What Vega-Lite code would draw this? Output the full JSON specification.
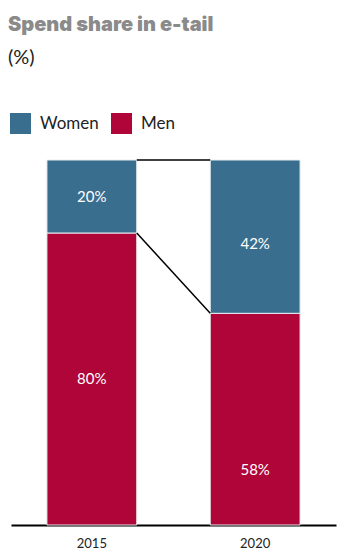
{
  "$schema": "https://vega.github.io/schema/vega-lite/v6.json",
  "width": 325,
  "height": 365,
  "autosize": {"type": "none"},
  "padding": {"left": 11, "top": 160, "right": 18, "bottom": 35},
  "background": "white",
  "config": {"view": {"stroke": null}},
  "title": {
    "text": "Spend share in e-tail",
    "subtitle": "(%)",
    "anchor": "start",
    "frame": "group",
    "dx": -3,
    "offset": 45,
    "font": "Inter",
    "fontSize": 20,
    "fontWeight": 900,
    "color": "#8a8a8a",
    "subtitleFont": "Lato",
    "subtitleFontSize": 20,
    "subtitleColor": "#222222",
    "subtitlePadding": 13
  },
  "datasets": {
    "shares": [
      {"year": "2015", "gender": "Men", "value": 80, "label": "80%"},
      {"year": "2015", "gender": "Women", "value": 20, "label": "20%"},
      {"year": "2020", "gender": "Men", "value": 58, "label": "58%"},
      {"year": "2020", "gender": "Women", "value": 42, "label": "42%"}
    ],
    "links": [
      {"from": "2015", "to": "2020", "start": 100, "end": 100},
      {"from": "2015", "to": "2020", "start": 80, "end": 58}
    ]
  },
  "encoding": {
    "x": {
      "field": "year",
      "type": "nominal",
      "scale": {"paddingInner": 0.45, "paddingOuter": 0.22},
      "axis": {
        "title": null,
        "labelAngle": 0,
        "ticks": false,
        "domainColor": "#000000",
        "domainWidth": 2,
        "labelFont": "Lato",
        "labelFontSize": 13,
        "labelColor": "#222222",
        "labelPadding": 12
      }
    }
  },
  "layer": [
    {
      "data": {"name": "shares"},
      "mark": {"type": "bar", "stroke": "#e8eef2", "strokeWidth": 1},
      "encoding": {
        "y": {"field": "value", "type": "quantitative", "stack": "zero", "scale": {"domain": [0, 100], "nice": false}, "axis": null},
        "color": {
          "field": "gender",
          "type": "nominal",
          "scale": {"domain": ["Women", "Men"], "range": ["#3a6e8f", "#b00538"]},
          "legend": {
            "title": null,
            "orient": "none",
            "legendX": -1,
            "legendY": -47,
            "direction": "horizontal",
            "symbolType": "square",
            "symbolSize": 441,
            "symbolStrokeWidth": 0,
            "labelFont": "Lato",
            "labelFontSize": 17,
            "labelColor": "#222222",
            "labelOffset": 9,
            "columnPadding": 12
          }
        },
        "order": {"field": "gender", "sort": "ascending"}
      }
    },
    {
      "data": {"name": "links"},
      "mark": {"type": "rule", "color": "#000000", "strokeWidth": 1.5},
      "encoding": {
        "x": {"field": "from", "type": "nominal", "bandPosition": 1},
        "x2": {"field": "to", "bandPosition": 0},
        "y": {"field": "start", "type": "quantitative"},
        "y2": {"field": "end"}
      }
    },
    {
      "data": {"name": "shares"},
      "mark": {"type": "text", "color": "white", "font": "Lato", "fontSize": 15},
      "encoding": {
        "y": {"field": "value", "type": "quantitative", "stack": "zero", "bandPosition": 0.5},
        "text": {"field": "label", "type": "nominal"},
        "order": {"field": "gender", "sort": "ascending"},
        "opacity": {"condition": {"test": "datum.year === '2015'", "value": 1}, "value": 0}
      }
    },
    {
      "data": {"name": "shares"},
      "mark": {"type": "text", "color": "white", "font": "Lato", "fontSize": 15, "dy": 7},
      "encoding": {
        "y": {"field": "value", "type": "quantitative", "stack": "zero", "bandPosition": 0.5},
        "text": {"field": "label", "type": "nominal"},
        "order": {"field": "gender", "sort": "ascending"},
        "opacity": {"condition": {"test": "datum.year === '2020' && datum.gender === 'Women'", "value": 1}, "value": 0}
      }
    },
    {
      "data": {"name": "shares"},
      "mark": {"type": "text", "color": "white", "font": "Lato", "fontSize": 15, "dy": 51},
      "encoding": {
        "y": {"field": "value", "type": "quantitative", "stack": "zero", "bandPosition": 0.5},
        "text": {"field": "label", "type": "nominal"},
        "order": {"field": "gender", "sort": "ascending"},
        "opacity": {"condition": {"test": "datum.year === '2020' && datum.gender === 'Men'", "value": 1}, "value": 0}
      }
    }
  ]
}
